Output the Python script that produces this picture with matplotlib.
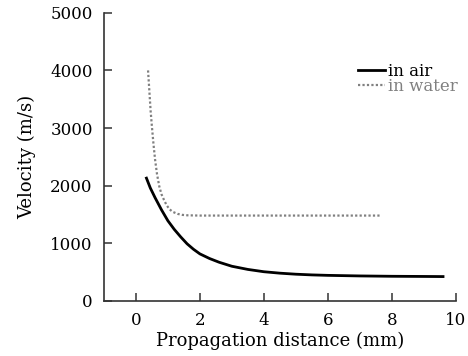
import numpy as np
import matplotlib
matplotlib.use("Agg")
import matplotlib.pyplot as plt

# velocity vs propagation distance
air_x = [0.33, 0.45, 0.6, 0.8, 1.0, 1.2, 1.4, 1.6, 1.8, 2.0, 2.3, 2.6, 3.0, 3.5,
         4.0, 4.5, 5.0, 5.5, 6.0, 7.0, 8.0, 9.0, 9.6]
air_v = [2130, 1960, 1790, 1580, 1390, 1240, 1110, 990, 895, 815, 735, 670, 600, 545,
         505, 480, 462, 450, 442, 432, 426, 423, 421]

water_x = [0.38, 0.42, 0.46, 0.5, 0.55, 0.6, 0.66, 0.73, 0.8, 0.88, 0.96, 1.05, 1.15,
           1.3, 1.45, 1.6, 2.0, 4.0, 6.0, 7.65]
water_v = [4000, 3650, 3300, 3030, 2720, 2450, 2200, 1990, 1850, 1750, 1660, 1590, 1545,
           1510, 1492, 1485, 1480, 1480, 1480, 1480]

plt.rcParams['font.family'] = ['DejaVu Serif']

fig = plt.figure(figsize=(4.68, 3.56), dpi=100)
ax = fig.add_axes([0.222, 0.155, 0.752, 0.809])

ax.plot(air_x, air_v, '-', color='black', linewidth=2.0, label='in air')
ax.plot(water_x, water_v, linestyle=(0, (1, 1)), color='#808080', linewidth=1.6, label='in water')

ax.set_xlim(-1, 10)
ax.set_ylim(0, 5000)
ax.set_xticks(range(0, 11, 2))
ax.set_yticks(range(0, 5001, 1000))
ax.spines['top'].set_visible(False)
ax.spines['right'].set_visible(False)
for s in ['left', 'bottom']:
    ax.spines[s].set_color('#333333')
    ax.spines[s].set_linewidth(1.2)
ax.tick_params(direction='in', length=6, width=1.1, color='#333333', labelsize=12, pad=8)

ax.set_xlabel('Propagation distance (mm)', fontsize=13, labelpad=2)
ax.set_ylabel('Velocity (m/s)', fontsize=13, labelpad=10)

leg = ax.legend(loc='upper right', bbox_to_anchor=(1.025, 0.85), frameon=False, fontsize=12,
                handlelength=1.6, handletextpad=0.2, labelspacing=-0.1, borderaxespad=0)
leg.get_texts()[1].set_color('#808080')

fig.savefig('out.png', dpi=100)
